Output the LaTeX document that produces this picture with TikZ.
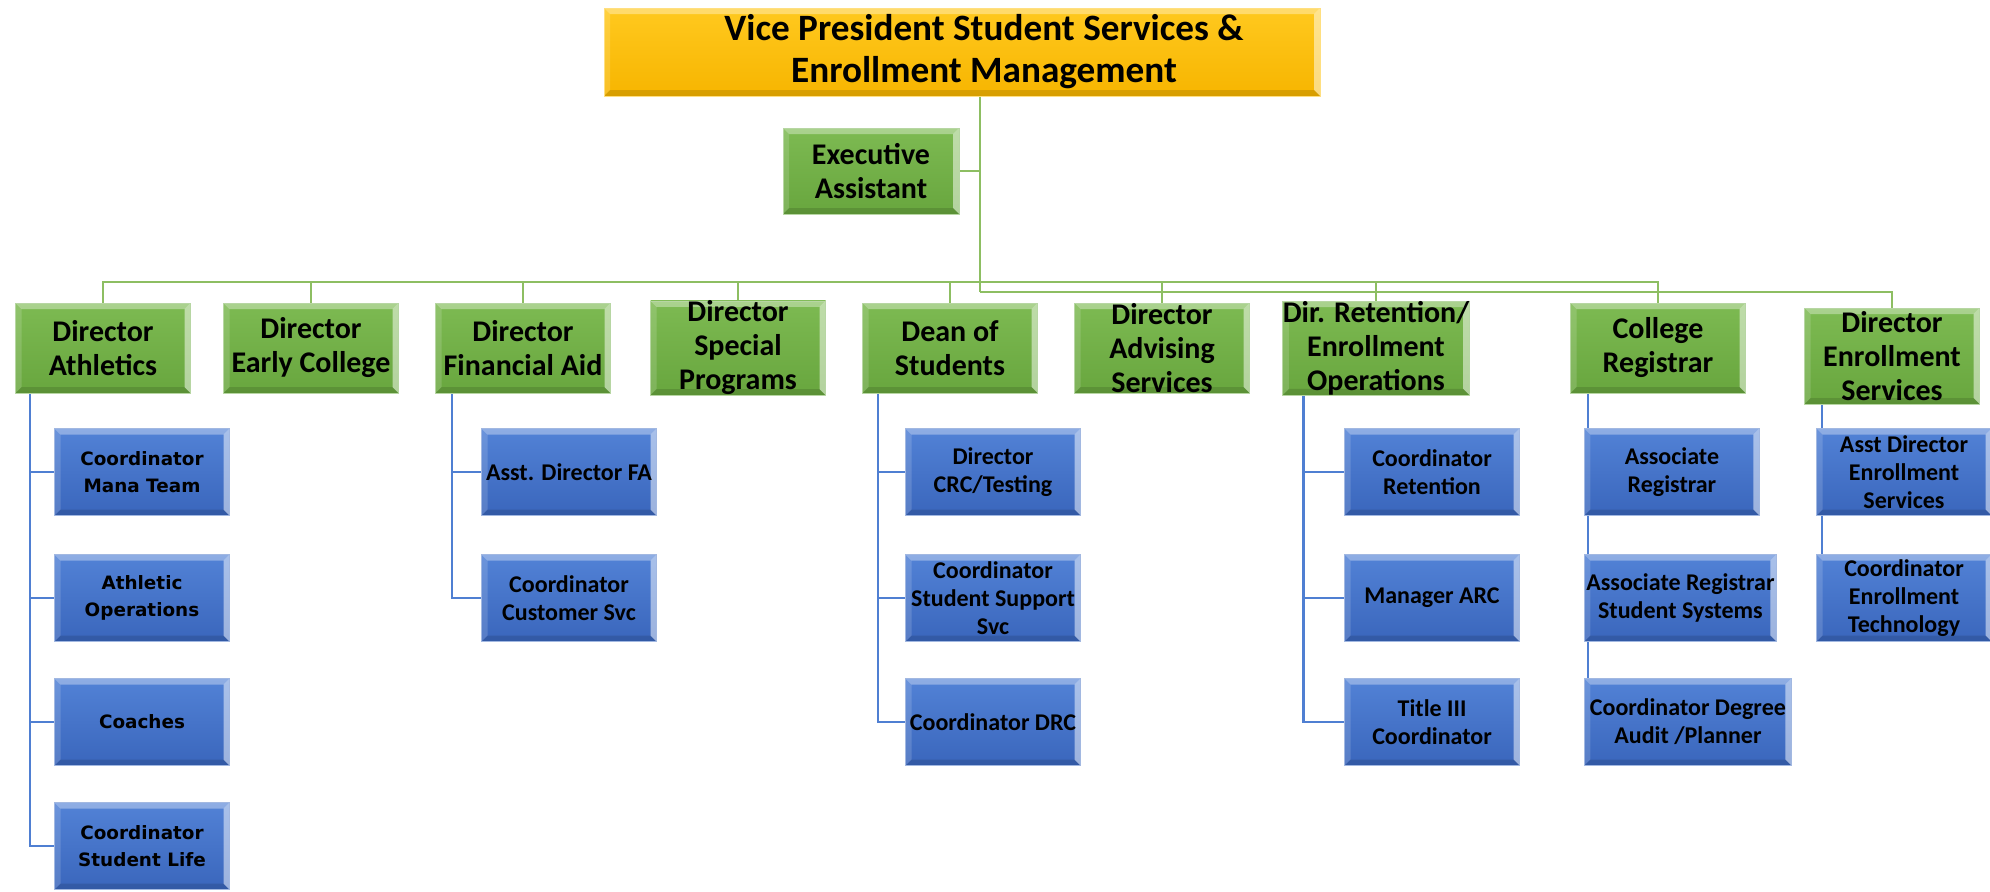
\documentclass[tikz,border=0pt]{standalone}
\usepackage{fontspec}
\setmainfont{Carlito}
\newfontfamily\athfont{DejaVu Sans}
\usetikzlibrary{backgrounds}

\definecolor{vpgold}{HTML}{FFC000}
\definecolor{vptop}{HTML}{FFC91F}
\definecolor{vpbot}{HTML}{F7B500}
\definecolor{dirgreen}{HTML}{70AD47}
\definecolor{dirtop}{HTML}{7DBA52}
\definecolor{dirbot}{HTML}{68A63E}
\definecolor{staffblue}{HTML}{4472C4}
\definecolor{stafftop}{HTML}{5282D6}
\definecolor{staffbot}{HTML}{3A66BC}
\definecolor{linegreen}{HTML}{8DBE62}
\definecolor{lineblue}{HTML}{4F7FD2}

\newcommand{\bevw}{3pt}

\tikzset{
  bevel/.style={path picture={
    \fill[white,opacity=.35] (path picture bounding box.north west) -- (path picture bounding box.north east)
      -- ([shift={(-\bevw,-\bevw)}]path picture bounding box.north east) -- ([shift={(\bevw,-\bevw)}]path picture bounding box.north west) -- cycle;
    \fill[white,opacity=.15] (path picture bounding box.north west) -- (path picture bounding box.south west)
      -- ([shift={(\bevw,\bevw)}]path picture bounding box.south west) -- ([shift={(\bevw,-\bevw)}]path picture bounding box.north west) -- cycle;
    \fill[white,opacity=.5] (path picture bounding box.north east) -- (path picture bounding box.south east)
      -- ([shift={(-\bevw,\bevw)}]path picture bounding box.south east) -- ([shift={(-\bevw,-\bevw)}]path picture bounding box.north east) -- cycle;
    \fill[black,opacity=.12] (path picture bounding box.south west) -- (path picture bounding box.south east)
      -- ([shift={(-\bevw,\bevw)}]path picture bounding box.south east) -- ([shift={(\bevw,\bevw)}]path picture bounding box.south west) -- cycle;
  }},
  box/.style={rectangle, inner sep=0pt, align=center, text=black, bevel},
  vpbox/.style={box, top color=vptop, bottom color=vpbot, draw=vpgold!50!white, minimum width=358pt, minimum height=44pt,
    font=\fontsize{18.6}{21}\selectfont\bfseries},
  dirbox/.style={box, top color=dirtop, bottom color=dirbot, draw=dirgreen!50!white, minimum width=87.5pt, minimum height=45pt,
    font=\fontsize{15}{17}\selectfont\bfseries},
  staffbox/.style={box, top color=stafftop, bottom color=staffbot, draw=staffblue!50!white, minimum width=87.5pt, minimum height=43.5pt,
    font=\fontsize{12}{14}\selectfont\bfseries},
  athbox/.style={staffbox, font=\athfont\fontsize{9.2}{13.5}\selectfont\bfseries},
  greenline/.style={draw=linegreen, line width=1.2pt},
  blueline/.style={draw=lineblue, line width=1.3pt},
}

\begin{document}
\begin{tikzpicture}[x=0.5pt,y=-0.5pt]
\useasboundingbox (0,0) rectangle (1990,891);

% Top
\node[vpbox] (vp) at (962,52) {\hspace*{22pt}Vice President Student Services \&\\\hspace*{22pt}Enrollment Management};
\node[dirbox, minimum width=88pt, minimum height=43pt] (exec) at (871,171) {Executive\\Assistant};

% Directors
\node[dirbox] (ath) at (103,348) {Director\\Athletics};
\node[dirbox] (early) at (311,348) {Director\\Early College};
\node[dirbox] (fa) at (523,348) {Director\\Financial Aid};
\node[dirbox] (spec) at (738,348) {Director\\Special\\Programs};
\node[dirbox] (dean) at (950,348) {Dean of\\Students};
\node[dirbox] (adv) at (1162,348) {Director\\Advising\\Services};
\node[dirbox] (ret) at (1376,348) {Dir. Retention/\\Enrollment\\Operations};
\node[dirbox] (reg) at (1658,348) {College\\Registrar};
\node[dirbox, minimum height=48pt] (enr) at (1892,356) {Director\\Enrollment\\Services};

% Athletics
\node[athbox] (ath1) at (142,472) {Coordinator\\Mana Team};
\node[athbox] (ath2) at (142,598) {Athletic\\Operations};
\node[athbox] (ath3) at (142,722) {Coaches};
\node[athbox] (ath4) at (142,846) {Coordinator\\Student Life};

% Financial aid
\node[staffbox] (fa1) at (569,472) {Asst. Director FA};
\node[staffbox] (fa2) at (569,598) {Coordinator\\Customer Svc};

% Dean of students
\node[staffbox] (dean1) at (993,472) {Director\\CRC/Testing};
\node[staffbox] (dean2) at (993,598) {Coordinator\\Student Support\\Svc};
\node[staffbox] (dean3) at (993,722) {Coordinator DRC};

% Retention
\node[staffbox] (ret1) at (1432,472) {Coordinator\\Retention};
\node[staffbox] (ret2) at (1432,598) {Manager ARC};
\node[staffbox] (ret3) at (1432,722) {Title III\\Coordinator};

% Registrar
\node[staffbox, anchor=west] (reg1) at (1584,472) {Associate\\Registrar};
\node[staffbox, anchor=west, minimum width=96pt] (reg2) at (1584,598) {Associate Registrar\\Student Systems};
\node[staffbox, anchor=west, minimum width=103.5pt] (reg3) at (1584,722) {Coordinator Degree\\Audit /Planner};

% Enrollment services
\node[staffbox] (enr1) at (1904,472) {Asst Director\\Enrollment\\Services};
\node[staffbox] (enr2) at (1904,598) {Coordinator\\Enrollment\\Technology};

\begin{scope}[on background layer]
\fill[white] (0,0) rectangle (1990,891);
\coordinate (trunk) at (980,292);
\coordinate (bus) at (980,282);
% green lines
\draw[greenline] (vp.south -| trunk) -- (trunk);
\draw[greenline] (exec.east) -- (exec.east -| trunk);
\draw[greenline] (ath.north) |- (bus) -| (reg.north);
\foreach \d in {early,fa,spec,dean,adv,ret}
  \draw[greenline] (\d.north) -- (\d.north |- bus);
\draw[greenline] (trunk) -| (enr.north);
% blue lines
\foreach \c in {ath1,ath2,ath3,ath4}
  \draw[blueline] ([xshift=7.5pt]ath.south west) |- (\c.west);
\foreach \c in {fa1,fa2}
  \draw[blueline] ([xshift=8.5pt]fa.south west) |- (\c.west);
\foreach \c in {dean1,dean2,dean3}
  \draw[blueline] ([xshift=8pt]dean.south west) |- (\c.west);
\foreach \c in {ret1,ret2,ret3}
  \draw[blueline] ([xshift=10.5pt]ret.south west) |- (\c.west);
\foreach \c in {reg1,reg2,reg3}
  \draw[blueline] ([xshift=9pt]reg.south west) |- ([xshift=3pt]\c.west);
\foreach \c in {enr1,enr2}
  \draw[blueline] ([xshift=9pt]enr.south west) |- ([xshift=3pt]\c.west);
\end{scope}
\end{tikzpicture}
\end{document}
